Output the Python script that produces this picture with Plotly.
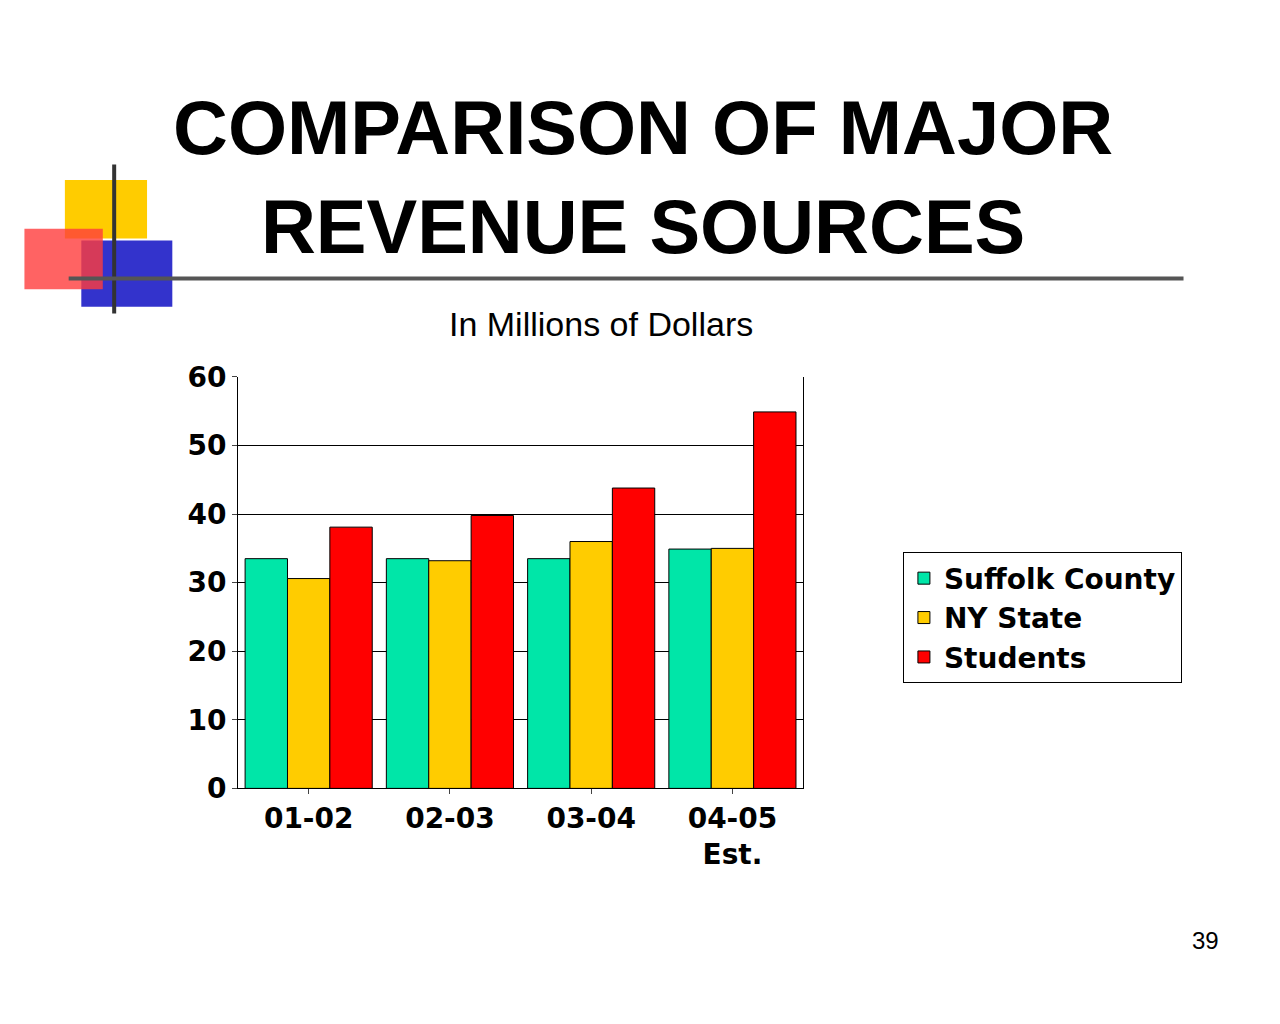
import plotly.graph_objects as go

years = ["01-02", "02-03", "03-04", "04-05<br>Est."]
suffolk = [33.5, 33.5, 33.5, 34.9]
ny_state = [30.6, 33.2, 36.0, 35.0]
students = [38.1, 39.8, 43.8, 54.9]

series = [("Suffolk County", suffolk, "#00E6A8"),
          ("NY State", ny_state, "#FFCC00"),
          ("Students", students, "#FF0000")]

fig = go.Figure()
for name, vals, col in series:
    fig.add_trace(go.Bar(x=years, y=vals, name=name, marker_color=col,
                         marker_line=dict(color="black", width=1)))

fig.update_layout(
    margin=dict(l=0, r=0, t=0, b=0),
    paper_bgcolor="white", plot_bgcolor="white",
    barmode="group", bargap=0.1, bargroupgap=0,
    font=dict(family="DejaVu Sans", color="black"),
    legend=dict(x=0.708, y=0.458, xanchor="left", yanchor="top",
                bordercolor="black", borderwidth=1,
                font=dict(size=28, family="DejaVu Sans", weight="bold"),
                tracegroupgap=20),
    xaxis=dict(type="category", domain=[0.182, 0.629], showline=True, linecolor="black",
               ticks="outside", tickfont=dict(size=28, weight="bold"), tickangle=0),
    yaxis=dict(domain=[0.216, 0.638], range=[0, 60], dtick=10,
               showgrid=True, gridcolor="black", gridwidth=1,
               showline=True, linecolor="black", mirror=True,
               ticks="outside", tickfont=dict(size=28, weight="bold")),
)

# title and subtitle
fig.add_annotation(text="COMPARISON OF MAJOR<br>REVENUE SOURCES", x=0.502, y=0.94,
                   xref="paper", yref="paper", yanchor="top", showarrow=False,
                   font=dict(size=76, family="Liberation Sans", weight="bold"),
                   align="center")
fig.add_annotation(text="In Millions of Dollars", x=0.469, y=0.714, xref="paper", yref="paper",
                   showarrow=False, font=dict(size=34, family="Liberation Sans"))
fig.add_annotation(text="39", x=0.96, y=0.044, xref="paper", yref="paper",
                   showarrow=False, font=dict(size=24, family="Liberation Sans"))

# decorative squares and line
fig.add_shape(type="rect", xref="paper", yref="paper", x0=0.045, x1=0.11, y0=0.78, y1=0.84,
              fillcolor="#FFCC00", line_width=0, layer="below")
fig.add_shape(type="rect", xref="paper", yref="paper", x0=0.058, x1=0.13, y0=0.71, y1=0.778,
              fillcolor="#3333CC", line_width=0, layer="below")
fig.add_shape(type="rect", xref="paper", yref="paper", x0=0.013, x1=0.075, y0=0.728, y1=0.79,
              fillcolor="rgba(255,60,60,0.8)", line_width=0, layer="below")
fig.add_shape(type="line", xref="paper", yref="paper", x0=0.084, x1=0.084, y0=0.703, y1=0.856,
              line=dict(color="#333333", width=4))
fig.add_shape(type="line", xref="paper", yref="paper", x0=0.048, x1=0.93, y0=0.739, y1=0.739,
              line=dict(color="#555555", width=4))

fig.write_html("out.html")
